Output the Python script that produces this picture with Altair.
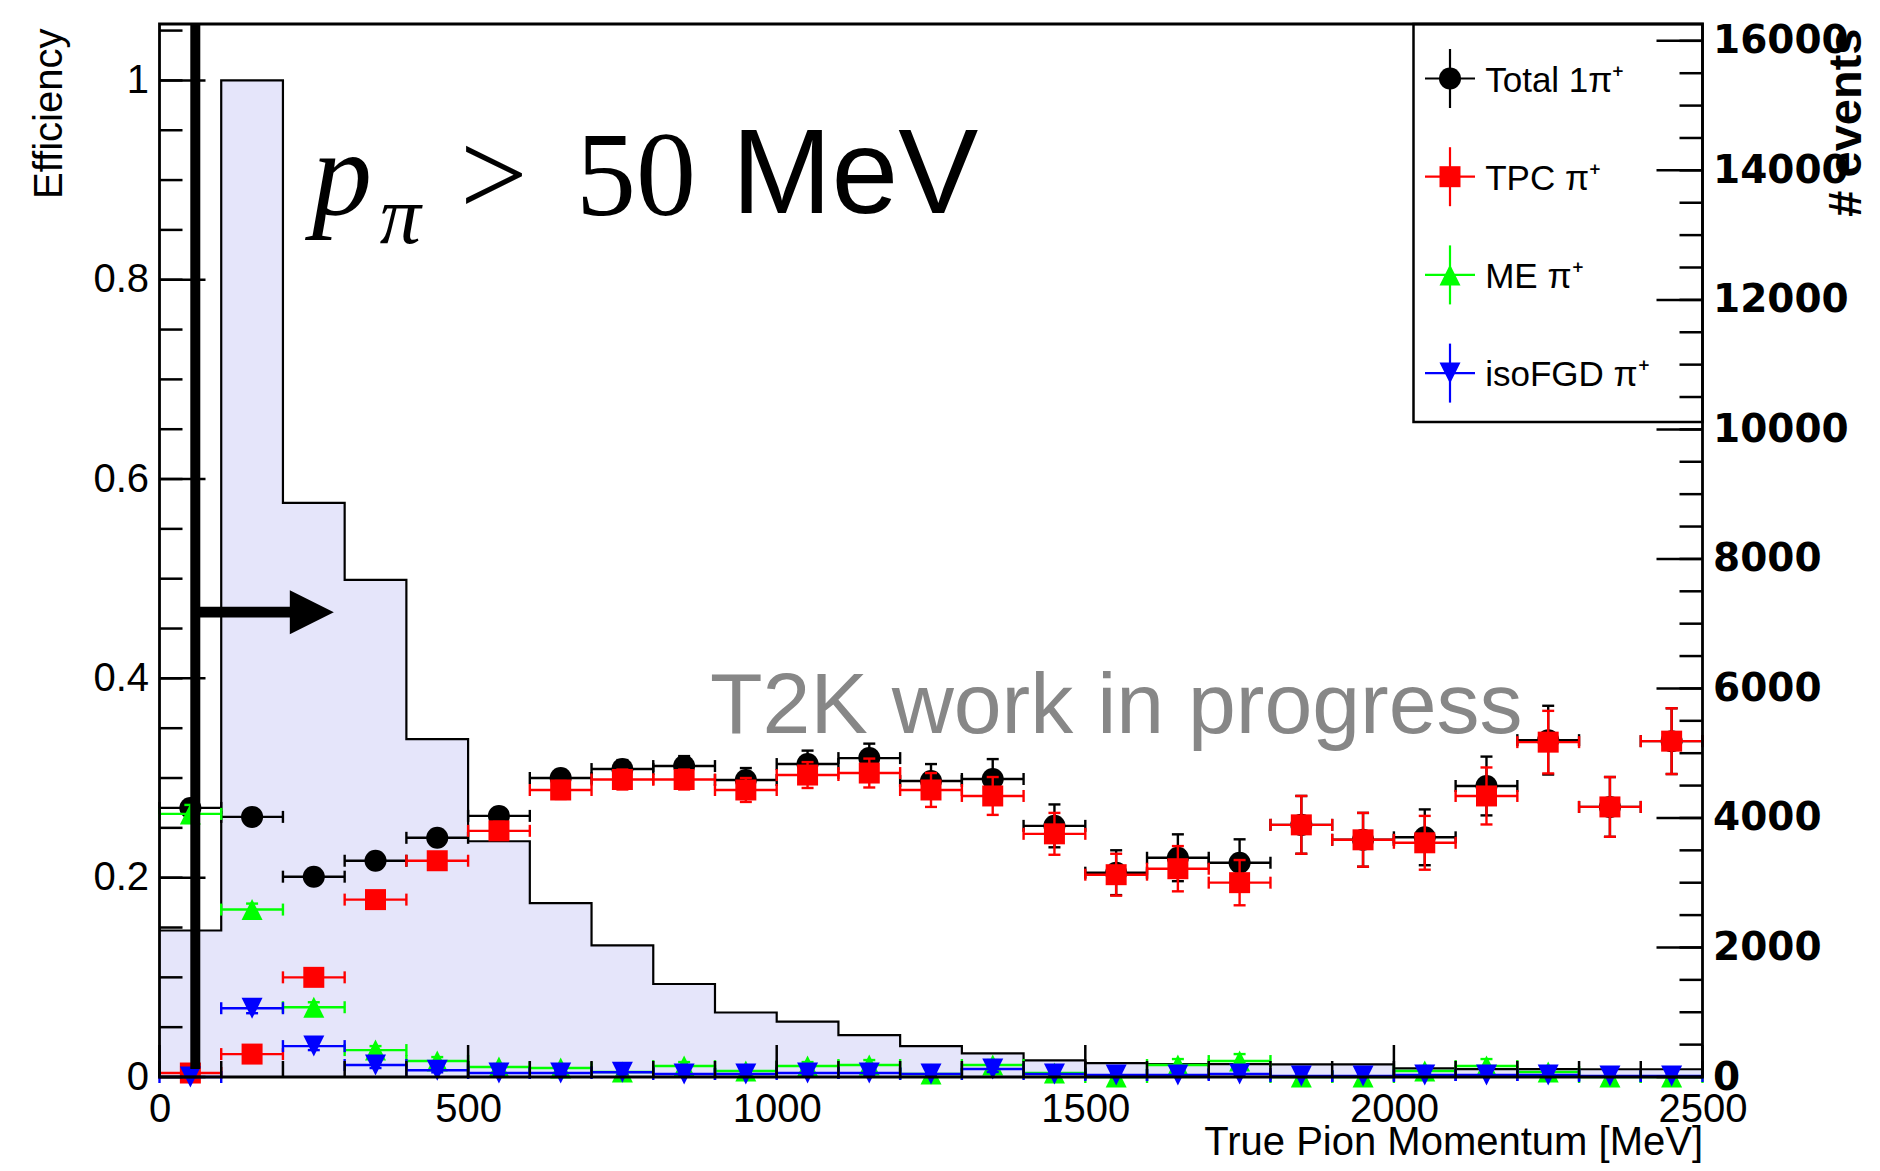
import altair as alt
import pandas as pd

# ---------------- data ----------------
bin_center = [50, 150, 250, 350, 450, 550, 650, 750, 850, 950, 1050, 1150, 1250,
              1350, 1450, 1550, 1650, 1750, 1850, 1950, 2050, 2150, 2250, 2350, 2450]
bin_half = 50

# histogram of true pion momentum (# events, right axis)
hist_events = [2262, 15389, 8864, 7676, 5217, 3640, 2684, 2031, 1436, 996, 856, 646, 477,
               366, 257, 214, 200, 200, 195, 195, 134, 123, 123, 120, 120]

# efficiencies (left axis) and their errors
eff_total = [0.270, 0.261, 0.201, 0.217, 0.240, 0.262, 0.300, 0.309, 0.312, 0.298, 0.314, 0.320, 0.297,
             0.299, 0.252, 0.205, 0.220, 0.215, 0.253, 0.238, 0.2405, 0.292, 0.338, 0.271, 0.337]
err_total = [0.008, 0.006, 0.006, 0.006, 0.007, 0.008, 0.008, 0.009, 0.010, 0.012, 0.0135, 0.0145, 0.017,
             0.020, 0.0215, 0.0225, 0.0235, 0.0235, 0.029, 0.027, 0.028, 0.0295, 0.0345, 0.030, 0.033]

eff_tpc = [0.004, 0.023, 0.100, 0.178, 0.217, 0.247, 0.288, 0.2985, 0.2985, 0.288, 0.303, 0.305, 0.288,
           0.282, 0.244, 0.203, 0.209, 0.195, 0.253, 0.238, 0.235, 0.282, 0.336, 0.271, 0.337]
err_tpc = [0.003, 0.005, 0.006, 0.007, 0.008, 0.009, 0.009, 0.010, 0.010, 0.012, 0.013, 0.0145, 0.017,
           0.019, 0.021, 0.021, 0.0227, 0.0227, 0.029, 0.027, 0.027, 0.0286, 0.0314, 0.030, 0.033]

eff_me = [0.264, 0.168, 0.070, 0.027, 0.016, 0.010, 0.009, 0.005, 0.011, 0.006, 0.011, 0.012, 0.003,
          0.012, 0.004, 0.000, 0.012, 0.016, 0.000, 0.000, 0.006, 0.011, 0.005, 0.000, 0.000]
err_me = [0.009, 0.006, 0.005, 0.004, 0.004, 0.003, 0.003, 0.003, 0.004, 0.003, 0.004, 0.005, 0.003,
          0.005, 0.004, 0.000, 0.006, 0.007, 0.000, 0.000, 0.005, 0.007, 0.005, 0.000, 0.000]

eff_iso = [0.000, 0.069, 0.031, 0.012, 0.0067, 0.004, 0.004, 0.0047, 0.003, 0.003, 0.004, 0.004, 0.003,
           0.008, 0.003, 0.002, 0.002, 0.003, 0.001, 0.001, 0.002, 0.002, 0.002, 0.001, 0.001]
err_iso = [0.000, 0.005, 0.004, 0.003, 0.002, 0.002, 0.002, 0.002, 0.002, 0.002, 0.002, 0.002, 0.002,
           0.003, 0.002, 0.001, 0.001, 0.002, 0.001, 0.001, 0.001, 0.001, 0.001, 0.001, 0.001]

series_labels = ["Total 1\u03c0\u207a", "TPC \u03c0\u207a", "ME \u03c0\u207a", "isoFGD \u03c0\u207a"]

# axis tick values
x_major = [0, 500, 1000, 1500, 2000, 2500]
x_minor = [0, 100, 200, 300, 400, 500, 600, 700, 800, 900, 1000, 1100, 1200, 1300, 1400,
           1500, 1600, 1700, 1800, 1900, 2000, 2100, 2200, 2300, 2400, 2500]
eff_major = [0, 0.2, 0.4, 0.6, 0.8, 1.0]
eff_minor = [0, 0.05, 0.1, 0.15, 0.2, 0.25, 0.3, 0.35, 0.4, 0.45, 0.5, 0.55, 0.6, 0.65, 0.7,
             0.75, 0.8, 0.85, 0.9, 0.95, 1.0, 1.05]
evt_major = [0, 2000, 4000, 6000, 8000, 10000, 12000, 14000, 16000]
evt_minor = [0, 500, 1000, 1500, 2000, 2500, 3000, 3500, 4000, 4500, 5000, 5500, 6000, 6500, 7000,
             7500, 8000, 8500, 9000, 9500, 10000, 10500, 11000, 11500, 12000, 12500, 13000, 13500,
             14000, 14500, 15000, 15500, 16000]

# ---------------- styling ----------------
W, H = 1543, 1053
EFF_MAX = 1.0566
EVT_MAX = 16260
FONT = "Liberation Sans"
SERIF = "Liberation Serif"
colors = ["#000000", "#ff0000", "#00ff00", "#0000ff"]
shapes = ["circle", "square", "M0,-1L1,1L-1,1Z", "M-1,-1L1,-1L0,1Z"]
msizes = [484, 441, 441, 441]
LW = 2.4

X_SCALE = alt.Scale(domain=[0, 2500], nice=False, zero=False)
EFF_SCALE = alt.Scale(domain=[0, EFF_MAX], nice=False, zero=False)
EVT_SCALE = alt.Scale(domain=[0, EVT_MAX], nice=False, zero=False)

X_AXIS = alt.Axis(values=x_major, format="d", title="True Pion Momentum [MeV]",
                  ticks=False, domain=False, grid=False,
                  labelFont=FONT, labelFontSize=40, labelColor="black", labelPadding=12,
                  labelFlush=False, labelOverlap=False,
                  titleFont=FONT, titleFontSize=40, titleFontWeight="normal", titleColor="black",
                  titleX=W, titleY=77, titleAlign="right", titleBaseline="alphabetic", titleAngle=0)

EFF_AXIS = alt.Axis(orient="left", values=eff_major, format="~g", title="Efficiency",
                    ticks=False, domain=False, grid=False,
                    labelFont=FONT, labelFontSize=40, labelColor="black", labelPadding=11,
                    labelOverlap=False,
                    titleFont=FONT, titleFontSize=40, titleFontWeight="normal", titleColor="black",
                    titleAngle=270, titleX=-98, titleY=4, titleAlign="right",
                    titleBaseline="alphabetic")

EVT_AXIS = alt.Axis(orient="right", values=evt_major, format="d", title="# events",
                    ticks=False, domain=False, grid=False,
                    labelFont="DejaVu Sans", labelFontWeight="bold", labelFontSize=39,
                    labelColor="black", labelPadding=10, labelOverlap=False,
                    titleFont=FONT, titleFontSize=47, titleFontWeight="bold", titleColor="black",
                    titleAngle=270, titleX=158, titleY=4, titleAlign="right",
                    titleBaseline="alphabetic")


def X(field):
    return alt.X(field, scale=X_SCALE, axis=X_AXIS)


# ---------------- histogram (right axis) ----------------
step_df = pd.DataFrame({
    "x": [c - bin_half for c in bin_center] + [bin_center[-1] + bin_half],
    "n": hist_events + [hist_events[-1]],
})
hist_fill = alt.Chart(step_df).mark_area(interpolate="step-after", color="#e5e5fa", opacity=1).encode(
    x=X("x:Q"),
    y=alt.Y("n:Q", scale=EVT_SCALE, axis=EVT_AXIS, stack=None),
    y2=alt.datum(0),
)
hist_line = alt.Chart(step_df).mark_line(interpolate="step-after", color="black", strokeWidth=2.2).encode(
    x=X("x:Q"),
    y=alt.Y("n:Q", scale=EVT_SCALE, axis=EVT_AXIS, stack=None),
)
hist_group = alt.layer(hist_fill, hist_line)


# ---------------- efficiency points (left axis) ----------------
def series_layers(vals, errs, color, shape, size):
    df = pd.DataFrame({"c": bin_center, "v": vals, "e": errs})
    df["lo"] = df["c"] - bin_half
    df["hi"] = df["c"] + bin_half
    df["vlo"] = df["v"] - df["e"]
    df["vhi"] = df["v"] + df["e"]
    base = alt.Chart(df)
    Yv = alt.Y("v:Q", scale=EFF_SCALE, axis=EFF_AXIS)
    hbar = base.mark_rule(color=color, strokeWidth=LW).encode(x=X("lo:Q"), x2="hi:Q", y=Yv)
    hcap_l = base.mark_point(shape="M0,-1L0,1", size=144, filled=False, color=color,
                             strokeWidth=LW, opacity=1).encode(x=X("lo:Q"), y=Yv)
    hcap_r = base.mark_point(shape="M0,-1L0,1", size=144, filled=False, color=color,
                             strokeWidth=LW, opacity=1).encode(x=X("hi:Q"), y=Yv)
    vbar = base.mark_rule(color=color, strokeWidth=LW).encode(
        x=X("c:Q"), y=alt.Y("vlo:Q", scale=EFF_SCALE, axis=EFF_AXIS), y2="vhi:Q")
    vcap_lo = base.mark_point(shape="M-1,0L1,0", size=144, filled=False, color=color,
                              strokeWidth=LW, opacity=1).encode(
        x=X("c:Q"), y=alt.Y("vlo:Q", scale=EFF_SCALE, axis=EFF_AXIS))
    vcap_hi = base.mark_point(shape="M-1,0L1,0", size=144, filled=False, color=color,
                              strokeWidth=LW, opacity=1).encode(
        x=X("c:Q"), y=alt.Y("vhi:Q", scale=EFF_SCALE, axis=EFF_AXIS))
    marker = base.mark_point(shape=shape, size=size, filled=True, color=color,
                             opacity=1, strokeWidth=0).encode(x=X("c:Q"), y=Yv)
    return [hbar, hcap_l, hcap_r, vbar, vcap_lo, vcap_hi, marker]


eff_layers = []
for vals, errs, col, shp, sz in zip([eff_total, eff_tpc, eff_me, eff_iso],
                                    [err_total, err_tpc, err_me, err_iso],
                                    colors, shapes, msizes):
    eff_layers += series_layers(vals, errs, col, shp, sz)
eff_group = alt.layer(*eff_layers)

# ---------------- annotations ----------------
one = pd.DataFrame({"k": [0]})


def YD(v):
    return alt.YDatum(v, scale=EFF_SCALE, axis=None)


cut_line = alt.Chart(one).mark_rule(color="black", strokeWidth=10).encode(
    x=alt.XDatum(58), y=YD(0.008), y2=alt.Y2Datum(EFF_MAX))
arrow_shaft = alt.Chart(one).mark_rule(color="black", strokeWidth=10.7).encode(
    x=alt.XDatum(58), x2=alt.X2Datum(212), y=YD(0.4664))
arrow_head = alt.Chart(one).mark_point(shape="M-1,-1L1,0L-1,1Z", size=1936, filled=True,
                                       color="black", opacity=1, strokeWidth=0).encode(
    x=alt.XDatum(246.8), y=YD(0.4664))


def txt(s, xd, yd, size, font=FONT, style="normal", color="black", weight="normal"):
    return alt.Chart(one).mark_text(text=s, font=font, fontStyle=style, fontSize=size,
                                    fontWeight=weight, color=color, align="left",
                                    baseline="alphabetic").encode(x=alt.XDatum(xd), y=YD(yd))


t_p = txt("p", 247, 0.8657, 120, font=SERIF, style="italic")
t_pi = txt("\u03c0", 357, 0.8367, 82, font=SERIF, style="italic")
t_gt = txt(">", 487, 0.8648, 120, font=SERIF)
t_50 = txt("50", 675, 0.8648, 120, font=SERIF)
t_mev = txt("MeV", 927, 0.8665, 120)
t_t2k = txt("T2K work in progress", 892, 0.3452, 86, color="#878787")

annot_group = alt.layer(cut_line, arrow_shaft, arrow_head, t_p, t_pi, t_gt, t_50, t_mev, t_t2k)

# ---------------- legend (drawn like ROOT's TLegend) ----------------
leg_layers = [alt.Chart(one).mark_rect(fill="white", stroke="black", strokeWidth=2.5).encode(
    x=alt.value(1254), x2=alt.value(W), y=alt.value(0), y2=alt.value(398))]
for i, (lab, col, shp, sz) in enumerate(zip(series_labels, colors, shapes, msizes)):
    cy = 54.5 + 98.2 * i
    leg_layers.append(alt.Chart(one).mark_rule(color=col, strokeWidth=2.2).encode(
        x=alt.value(1265.5), x2=alt.value(1315.5), y=alt.value(cy)))
    leg_layers.append(alt.Chart(one).mark_rule(color=col, strokeWidth=2.2).encode(
        x=alt.value(1290.5), y=alt.value(cy - 29.5), y2=alt.value(cy + 29.5)))
    leg_layers.append(alt.Chart(one).mark_point(shape=shp, size=sz, filled=True, color=col,
                                                opacity=1, strokeWidth=0).encode(
        x=alt.value(1290.5), y=alt.value(cy)))
    leg_layers.append(alt.Chart(one).mark_text(text=lab, font=FONT, fontSize=35, color="black",
                                               align="left", baseline="alphabetic").encode(
        x=alt.value(1325.7), y=alt.value(cy + 13.3)))
legend_group = alt.layer(*leg_layers)

# ---------------- ROOT-style inward ticks ----------------
lt_major = alt.Chart(pd.DataFrame({"t": eff_major})).mark_rule(color="black", strokeWidth=2.5).encode(
    y=alt.Y("t:Q", scale=EFF_SCALE, axis=None), x=alt.value(0), x2=alt.value(46))
lt_minor = alt.Chart(pd.DataFrame({"t": eff_minor})).mark_rule(color="black", strokeWidth=2.5).encode(
    y=alt.Y("t:Q", scale=EFF_SCALE, axis=None), x=alt.value(0), x2=alt.value(23))
rt_major = alt.Chart(pd.DataFrame({"t": evt_major})).mark_rule(color="black", strokeWidth=2.5).encode(
    y=alt.Y("t:Q", scale=EVT_SCALE, axis=None), x=alt.value(W - 46), x2=alt.value(W))
rt_minor = alt.Chart(pd.DataFrame({"t": evt_minor})).mark_rule(color="black", strokeWidth=2.5).encode(
    y=alt.Y("t:Q", scale=EVT_SCALE, axis=None), x=alt.value(W - 23), x2=alt.value(W))
xt_major = alt.Chart(pd.DataFrame({"t": x_major})).mark_rule(color="black", strokeWidth=2.5).encode(
    x=X("t:Q"), y=alt.value(H), y2=alt.value(H - 32))
xt_minor = alt.Chart(pd.DataFrame({"t": x_minor})).mark_rule(color="black", strokeWidth=2.5).encode(
    x=X("t:Q"), y=alt.value(H), y2=alt.value(H - 16))

frame = alt.Chart(one).mark_rect(fill="white", fillOpacity=0, stroke="black", strokeWidth=2.8).encode(
    x=alt.value(0), x2=alt.value(W), y=alt.value(0), y2=alt.value(H))

chart = alt.layer(
    hist_group, eff_group, annot_group, legend_group,
    lt_major, lt_minor, rt_major, rt_minor, xt_major, xt_minor, frame,
).resolve_scale(y="independent").properties(
    width=W, height=H,
    padding={"left": 151.5, "top": 16, "right": 169.5, "bottom": 86},
    autosize=alt.AutoSizeParams(type="none"),
).configure_view(stroke=None).configure(background="white")

chart.save("out.html", embed_options={"renderer": "svg", "actions": False})
